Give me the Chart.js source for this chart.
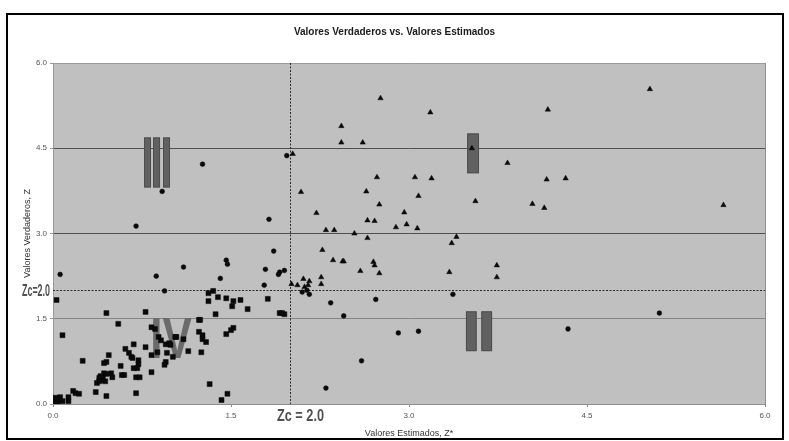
<!DOCTYPE html>
<html>
<head>
<meta charset="utf-8">
<script src="https://cdn.jsdelivr.net/npm/chart.js@4.4.1/dist/chart.umd.min.js"></script>
<style>
html,body{margin:0;padding:0;background:#fff;}
#wrap{width:789px;height:441px;position:relative;}
</style>
</head>
<body>
<div id="wrap"><canvas id="c"></canvas></div>
<script>
// ---- Data ----
const chartTitle = "Valores Verdaderos vs. Valores Estimados";
const xTitle = "Valores Estimados, Z*";
const yTitle = "Valores Verdaderos, Z";
const tickValues = [0, 1.5, 3.0, 4.5, 6.0];
const cutoff = 2.0;
const cutoffLabel = "Zc = 2.0";
const cutoffLabelLeft = "Zc=2.0";

// Quadrant IV (squares): Z* < 2, Z < 2
const squareX = [0.02,0.03,0.06,0.01,0.04,0.08,0.13,0.17,0.19,0.22,0.13,0.25,0.36,0.45,0.37,0.39,0.40,0.40,0.42,0.43,0.45,0.41,0.44,0.39,0.45,0.43,0.47,0.49,0.50,0.55,0.45,0.57,0.58,0.60,0.61,0.64,0.66,0.67,0.68,0.70,0.73,0.70,0.72,0.72,0.71,0.68,0.78,0.78,0.83,0.83,0.88,0.83,0.86,0.89,0.91,0.95,0.96,0.95,0.94,1.01,0.99,1.04,1.10,1.14,1.23,1.24,1.23,1.26,1.26,1.29,1.25,1.46,1.52,1.50,1.32,1.47,1.42,1.31,1.35,1.31,1.39,1.46,1.52,1.51,1.58,1.64,1.37,1.81,1.91,1.95,1.93,0.03,0.08,0.98,1.03];
const squareY = [0.11,0.09,0.12,0.04,0.04,0.05,0.12,0.23,0.19,0.18,0.05,0.76,0.21,0.14,0.37,0.46,0.49,0.42,0.47,0.54,0.53,0.47,0.40,0.40,0.74,0.72,0.86,0.54,0.47,1.41,1.60,0.67,0.51,0.51,0.97,0.90,0.83,0.81,1.05,0.47,0.47,0.19,0.77,0.70,0.63,0.63,1.00,1.62,0.56,0.86,0.91,1.35,1.32,1.18,1.12,1.05,0.90,0.74,0.69,0.83,1.04,1.18,1.14,0.93,1.27,1.48,1.48,1.21,1.14,1.09,0.91,1.23,1.34,1.30,0.35,0.18,0.07,1.95,1.99,1.81,1.88,1.86,1.81,1.72,1.83,1.67,1.58,1.85,1.60,1.58,1.60,1.83,1.21,1.07,1.18];

// Quadrants II and III (circles)
const circleX = [0.06,0.70,0.87,0.92,0.94,1.10,1.26,1.41,1.46,1.47,1.79,1.82,1.86,1.78,1.90,1.91,1.95,1.97,2.10,2.14,2.16,2.34,2.45,2.72,3.37,2.91,3.08,2.60,2.30,4.34,5.11];
const circleY = [2.28,3.13,2.25,3.74,1.99,2.41,4.22,2.21,2.53,2.46,2.37,3.25,2.69,2.09,2.28,2.32,2.35,4.37,1.97,2.00,1.93,1.78,1.55,1.84,1.93,1.25,1.28,0.76,0.28,1.32,1.60];

// Quadrant I (triangles)
const triangleX = [2.02,2.09,2.22,2.30,2.37,2.54,2.27,2.43,2.43,2.61,2.76,3.18,2.73,2.64,2.75,2.65,2.71,2.89,2.96,2.98,3.07,3.05,3.08,3.19,3.40,3.36,3.53,3.83,3.56,4.04,4.17,5.03,4.16,4.32,4.14,5.65,3.34,3.74,3.74,2.65,2.36,2.44,2.45,2.70,2.71,2.59,2.75,2.11,2.16,2.26,2.26,2.01,2.06,2.15,2.12];
const triangleY = [4.40,3.73,3.36,3.06,3.06,3.00,2.71,4.89,4.60,4.60,5.38,5.13,3.99,3.74,3.51,3.23,3.22,3.11,3.37,3.16,3.09,3.99,3.66,3.97,2.94,2.83,4.50,4.24,3.57,3.52,5.18,5.54,3.95,3.97,3.45,3.50,2.32,2.44,2.23,2.92,2.53,2.51,2.51,2.50,2.44,2.34,2.30,2.20,2.16,2.23,2.11,2.11,2.09,2.09,2.06];

const toPts = (xs, ys) => xs.map((x, i) => ({x: x, y: ys[i]}));

// ---- Decorations ----
const FONT = "'Liberation Sans', Arial, sans-serif";

const decor = {
  id: 'decor',
  beforeDraw(chart) {
    const {ctx, chartArea: a} = chart;
    ctx.save();
    ctx.fillStyle = '#c0c0c0';
    ctx.fillRect(a.left, a.top, a.right - a.left, a.bottom - a.top);
    ctx.restore();
  },
  beforeDatasetsDraw(chart) {
    const {ctx, chartArea: a, scales: {x, y}} = chart;
    ctx.save();
    // Roman numeral blocks (I, II, III) drawn as bars, as in the original
    ctx.fillStyle = '#616161';
    ctx.strokeStyle = '#4e4e4e';
    ctx.lineWidth = 1;
    const bar = (x0, x1, y0, y1) => {
      const l = x.getPixelForValue(x0), r = x.getPixelForValue(x1);
      const t = y.getPixelForValue(y0), b = y.getPixelForValue(y1);
      ctx.fillRect(l, t, r - l, b - t);
      ctx.strokeRect(l + 0.5, t + 0.5, r - l - 1, b - t - 1);
    };
    // III
    bar(0.767, 0.826, 4.69, 3.81);
    bar(0.843, 0.902, 4.69, 3.81);
    bar(0.927, 0.986, 4.69, 3.81);
    // I
    bar(3.49, 3.59, 4.76, 4.06);
    // II
    bar(3.48, 3.57, 1.63, 0.93);
    bar(3.61, 3.70, 1.63, 0.93);
    // IV as text
    const l = x.getPixelForValue(0.82), r = x.getPixelForValue(1.17);
    const t = y.getPixelForValue(1.53), b = y.getPixelForValue(0.81);
    const fs = (b - t) / 0.72;
    ctx.font = 'bold ' + fs + 'px ' + FONT;
    ctx.fillStyle = '#6b6b6b';
    ctx.textBaseline = 'alphabetic';
    ctx.textAlign = 'left';
    const w = ctx.measureText('IV').width;
    ctx.translate(l, b);
    ctx.scale((r - l) / w, 1);
    ctx.fillText('IV', 0, 0);
    ctx.setTransform(1, 0, 0, 1, 0, 0);
    ctx.restore();

    // cutoff dotted lines
    ctx.save();
    ctx.strokeStyle = '#2a2a2a';
    ctx.lineWidth = 1;
    ctx.setLineDash([2, 1.5]);
    const cx = Math.round(x.getPixelForValue(cutoff)) + 0.5;
    const cy = Math.round(y.getPixelForValue(cutoff)) + 0.5;
    ctx.beginPath();
    ctx.moveTo(cx, a.top); ctx.lineTo(cx, a.bottom);
    ctx.moveTo(a.left, cy); ctx.lineTo(a.right, cy);
    ctx.stroke();
    ctx.restore();
  },
  afterDraw(chart) {
    const {ctx, scales: {x, y}} = chart;
    ctx.save();
    // Zc labels
    ctx.fillStyle = '#505050';
    ctx.textBaseline = 'alphabetic';
    ctx.textAlign = 'left';
    ctx.font = 'bold 17px ' + FONT;
    let w = ctx.measureText(cutoffLabel).width;
    ctx.translate(277, 421);
    ctx.scale(47 / w, 1);
    ctx.fillText(cutoffLabel, 0, 0);
    ctx.setTransform(1, 0, 0, 1, 0, 0);
    ctx.font = 'bold 17px ' + FONT;
    w = ctx.measureText(cutoffLabelLeft).width;
    ctx.translate(22, y.getPixelForValue(cutoff) + 6);
    ctx.scale(28 / w, 1);
    ctx.fillText(cutoffLabelLeft, 0, 0);
    ctx.setTransform(1, 0, 0, 1, 0, 0);
    // outer frame
    ctx.strokeStyle = '#000';
    ctx.lineWidth = 2;
    ctx.strokeRect(7, 14, 776, 425);
    ctx.restore();
  }
};

const tickCb = v => Number(v).toFixed(1);

new Chart(document.getElementById('c'), {
  type: 'scatter',
  data: {
    datasets: [
      {label: 'IV', data: toPts(squareX, squareY), pointStyle: 'rect', pointRadius: 3.5,
       backgroundColor: '#0a0a0a', borderColor: '#0a0a0a', borderWidth: 0.5},
      {label: 'II/III', data: toPts(circleX, circleY), pointStyle: 'circle', pointRadius: 2.4,
       backgroundColor: '#0a0a0a', borderColor: '#0a0a0a', borderWidth: 0.5},
      {label: 'I', data: toPts(triangleX, triangleY), pointStyle: 'triangle', pointRadius: 3.1,
       backgroundColor: '#0a0a0a', borderColor: '#0a0a0a', borderWidth: 0.5}
    ]
  },
  options: {
    responsive: true,
    maintainAspectRatio: false,
    animation: false,
    devicePixelRatio: 1,
    layout: {padding: {top: 20, left: 0, right: 0, bottom: 0}},
    plugins: {
      legend: {display: false},
      tooltip: {enabled: false},
      title: {
        display: true, text: chartTitle, color: '#1a1a1a',
        font: {family: FONT, size: 10, weight: 'bold'},
        padding: {top: 6, bottom: 25}
      }
    },
    scales: {
      x: {
        type: 'linear', position: 'bottom', min: 0, max: 6,
        afterBuildTicks: s => { s.ticks = tickValues.map(v => ({value: v})); },
        afterFit: s => { s.height = 37; },
        ticks: {callback: tickCb, color: '#555', font: {family: FONT, size: 8}, padding: 4, maxRotation: 0},
        grid: {
          color: c => (c.tick && c.tick.value === 6) ? '#8e8e8e' : 'rgba(0,0,0,0)',
          tickColor: '#888', tickLength: 3, drawTicks: true
        },
        border: {display: true, color: '#8e8e8e', width: 1},
        title: {display: true, text: xTitle, color: '#333', font: {family: FONT, size: 9}, padding: {top: 0, bottom: 2}}
      },
      y: {
        type: 'linear', position: 'left', min: 0, max: 6,
        afterBuildTicks: s => { s.ticks = tickValues.map(v => ({value: v})); },
        afterFit: s => { s.width = 53; },
        ticks: {callback: tickCb, color: '#555', font: {family: FONT, size: 8}, padding: 3},
        grid: {
          color: c => {
            const v = c.tick ? c.tick.value : null;
            if (v === 0) return 'rgba(0,0,0,0)';
            if (v === 1.5) return '#858585';
            if (v === 6) return '#9a9a9a';
            return '#505050';
          },
          tickColor: '#999', tickLength: 3, drawTicks: true
        },
        border: {display: true, color: '#999', width: 1},
        title: {display: true, text: yTitle, color: '#333', font: {family: FONT, size: 9}, padding: {top: 22, bottom: 0}}
      },
      yRight: {
        type: 'linear', position: 'right', display: true,
        afterFit: s => { s.width = 24; },
        ticks: {display: false},
        grid: {display: false},
        border: {display: false}
      }
    }
  },
  plugins: [decor]
});
</script>
</body>
</html>
